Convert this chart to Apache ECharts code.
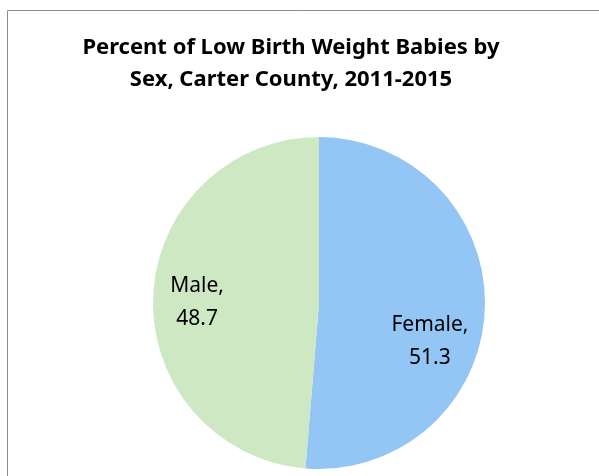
<!DOCTYPE html>
<html style="height: 100%">
<head>
    <meta charset="utf-8">
</head>
<body style="height: 100%; margin: 0; background: #fff">
<div id="container" style="width: 599px; height: 476px"></div>
<script src="https://cdn.jsdelivr.net/npm/echarts@6/dist/echarts.min.js"></script>
<script>
// data
var sexes = ['Female', 'Male'];
var percents = [51.3, 48.7];
var sliceColors = ['#93C5F5', '#CDE8C3'];
// label nudges from the default inside position
var labelOffsets = [[25, 35], [-36, 3]];

var seriesData = [];
for (var i = 0; i < sexes.length; i++) {
    seriesData.push({
        name: sexes[i],
        value: percents[i],
        itemStyle: {color: sliceColors[i]},
        label: {offset: labelOffsets[i]}
    });
}

var myChart = echarts.init(document.getElementById('container'));

var option = {
    backgroundColor: '#fff',
    animation: false,
    title: {
        text: 'Percent of Low Birth Weight Babies by\nSex, Carter County, 2011-2015',
        left: 286,
        textAlign: 'center',
        top: 27,
        textStyle: {
            fontFamily: 'Noto Sans',
            fontWeight: 'bold',
            fontSize: 22,
            lineHeight: 32,
            color: '#000'
        }
    },
    graphic: [{
        type: 'rect',
        left: 5,
        top: 8,
        shape: {width: 700, height: 600},
        style: {fill: 'none', stroke: '#8c8c8c', lineWidth: 1},
        silent: true
    }],
    series: [{
        name: 'Sex',
        type: 'pie',
        center: [319, 303],
        radius: 166,
        startAngle: 90,
        clockwise: true,
        label: {
            show: true,
            position: 'inside',
            formatter: '{b},\n{c}',
            fontFamily: 'Noto Sans',
            fontSize: 21,
            lineHeight: 33,
            color: '#000'
        },
        labelLine: {show: false},
        itemStyle: {borderWidth: 0},
        emphasis: {disabled: true},
        data: seriesData
    }]
};

myChart.setOption(option);
</script>
</body>
</html>
